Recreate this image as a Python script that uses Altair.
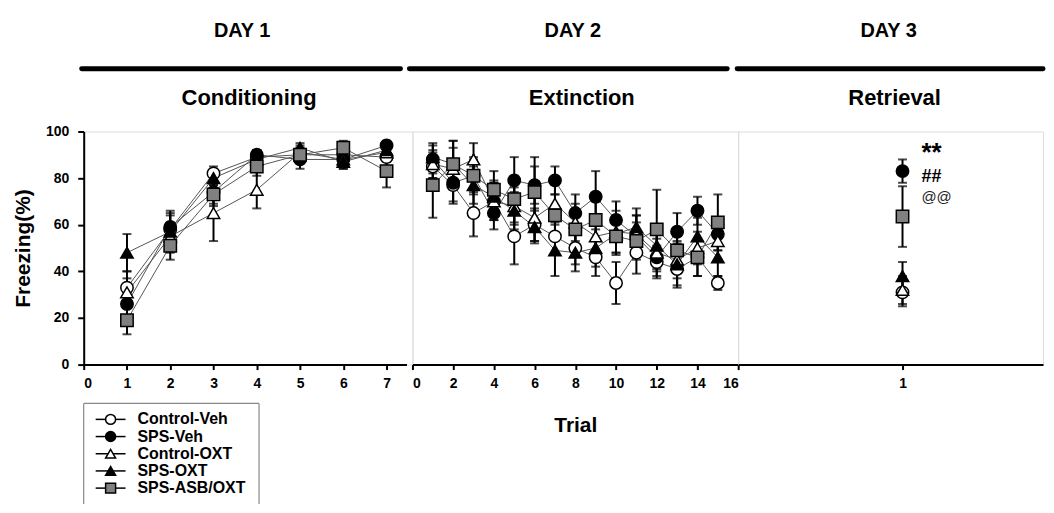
import altair as alt
import pandas as pd

# ---------------- data ----------------
groups = ["Control-Veh", "SPS-Veh", "Control-OXT", "SPS-OXT", "SPS-ASB/OXT"]

day1_trials = [1, 2, 3, 4, 5, 6, 7]
d1_ctrl_veh = [33, 58, 82, 89, 90, 90, 89]
d1_sps_veh = [26, 59, 74, 90, 88, 88, 94]
d1_ctrl_oxt = [31, 55, 65, 75, 91, 88, 91]
d1_sps_oxt = [48, 57, 80, 88, 93, 87, 92]
d1_sps_asb = [19, 51, 73, 85, 90, 93, 83]
d1_sem_ctrl_veh = [7, 6, 3, 3, 3, 3, 4]
d1_sem_sps_veh = [5, 6, 5, 2, 4, 3, 2]
d1_sem_ctrl_oxt = [6, 6, 12, 8, 3, 4, 4]
d1_sem_sps_oxt = [8, 9, 3, 4, 2, 3, 3]
d1_sem_sps_asb = [6, 6, 5, 4, 3, 3, 7]

day2_trials = list(range(1, 16))
d2_ctrl_veh = [85, 77, 65, 70, 55, 60, 55, 50, 46, 35, 48, 44, 41, 46, 35]
d2_sps_veh = [88, 78, 81, 65, 79, 77, 79, 65, 72, 62, 55, 46, 57, 66, 56]
d2_ctrl_oxt = [86, 84, 88, 70, 68, 63, 69, 61, 55, 57, 56, 48, 45, 50, 53]
d2_sps_oxt = [89, 86, 77, 72, 66, 59, 49, 48, 50, 56, 59, 51, 43, 55, 46]
d2_sps_asb = [77, 86, 81, 75, 71, 74, 64, 58, 62, 55, 53, 58, 49, 46, 61]
d2_sem_ctrl_veh = [5, 8, 10, 8, 12, 7, 8, 7, 8, 9, 9, 7, 8, 8, 3]
d2_sem_sps_veh = [6, 8, 7, 7, 10, 8, 6, 8, 11, 8, 9, 8, 8, 6, 7]
d2_sem_ctrl_oxt = [6, 9, 7, 8, 8, 10, 8, 8, 8, 9, 8, 8, 8, 7, 8]
d2_sem_sps_oxt = [6, 10, 8, 7, 8, 7, 11, 8, 8, 8, 8, 9, 9, 8, 8]
d2_sem_sps_asb = [14, 10, 8, 8, 10, 15, 9, 8, 8, 8, 8, 17, 8, 8, 12]

day3_trials = [1]
d3_mean = [31, 83, 32, 38, 63.5]
d3_sem = [6, 5, 6, 6, 13]

days = ["DAY 1", "DAY 2", "DAY 3"]
phases = ["Conditioning", "Extinction", "Retrieval"]

sig_labels = ["**", "##", "@@"]
sig_y = [87.5, 78.3, 69.6]

# ---------------- tables ----------------
def long_table(trials, means, sems):
    rows = []
    for gi, g in enumerate(groups):
        for t, m, s in zip(trials, means[gi], sems[gi]):
            rows.append({"group": g, "gi": gi, "trial": t, "mean": m,
                         "lo": m - s, "hi": m + s})
    return pd.DataFrame(rows)

df1 = long_table(day1_trials,
                 [d1_ctrl_veh, d1_sps_veh, d1_ctrl_oxt, d1_sps_oxt, d1_sps_asb],
                 [d1_sem_ctrl_veh, d1_sem_sps_veh, d1_sem_ctrl_oxt, d1_sem_sps_oxt, d1_sem_sps_asb])
df2 = long_table(day2_trials,
                 [d2_ctrl_veh, d2_sps_veh, d2_ctrl_oxt, d2_sps_oxt, d2_sps_asb],
                 [d2_sem_ctrl_veh, d2_sem_sps_veh, d2_sem_ctrl_oxt, d2_sem_sps_oxt, d2_sem_sps_asb])
df3 = long_table(day3_trials, [[m] for m in d3_mean], [[s] for s in d3_sem])

FONT = "Liberation Sans"
H = 234
FILLS = ["white", "black", "white", "black", "#808080"]
MARKER_SHAPES = ["circle", "circle", "triangle-up", "triangle-up", "square"]


def panel(df, idx, xscale, xaxis, yaxis, bar_x, bar_x2, day_x, phase_x):
    base = alt.Chart(df)
    x = alt.X("trial:Q", scale=xscale, axis=xaxis)
    y = alt.Y("mean:Q", scale=alt.Scale(domain=[0, 100]), axis=yaxis)
    fill_scale = alt.Scale(domain=groups, range=FILLS)
    lines = base.mark_line(color="#555555", strokeWidth=1).encode(
        x=x, y=y, detail="group:N")
    err = base.mark_rule(color="black", strokeWidth=2).encode(
        x="trial:Q", y="lo:Q", y2="hi:Q")
    cap_lo = base.mark_tick(color="black", orient="horizontal", size=9, thickness=2).encode(
        x="trial:Q", y="lo:Q")
    cap_hi = base.mark_tick(color="black", orient="horizontal", size=9, thickness=2).encode(
        x="trial:Q", y="hi:Q")
    layers = [lines, err, cap_lo, cap_hi]
    for shp in ["circle", "triangle-up", "square"]:
        members = [g for g, s in zip(groups, MARKER_SHAPES) if s == shp]
        layers.append(
            base.transform_filter(alt.FieldOneOfPredicate(field="group", oneOf=members))
            .mark_point(shape=shp, filled=True, size=155, stroke="black", strokeWidth=1.5, opacity=1)
            .encode(x="trial:Q", y="mean:Q",
                    fill=alt.Fill("group:N", scale=fill_scale, legend=None),
                    order=alt.Order("gi:Q")))
    hdr = alt.Chart(pd.DataFrame({"day": [days[idx]], "phase": [phases[idx]]}))
    bar = hdr.mark_rule(color="black", strokeWidth=5, strokeCap="round").encode(
        x=alt.value(bar_x), x2=alt.value(bar_x2), y=alt.value(-63))
    day_t = hdr.mark_text(font=FONT, fontSize=20, fontWeight="bold", baseline="middle").encode(
        text="day:N", x=alt.value(day_x), y=alt.value(-101))
    ph_t = hdr.mark_text(font=FONT, fontSize=22, fontWeight="bold", baseline="middle").encode(
        text="phase:N", x=alt.value(phase_x), y=alt.value(-34))
    layers += [bar, day_t, ph_t]
    return layers


axis_common = dict(labelFont=FONT, labelFontSize=14, labelFontWeight="bold", labelColor="black",
                   domainColor="black", domainWidth=2, tickColor="black", tickWidth=2,
                   tickSize=5, labelPadding=7, grid=False, titleFont=FONT, titleFontSize=21,
                   titleFontWeight="bold", titleColor="black")

yaxis1 = alt.Axis(values=[0, 20, 40, 60, 80, 100], title="Freezing(%)", titlePadding=12,
                  **{**axis_common, "labelPadding": 9, "tickSize": 6})

l1 = panel(df1, 0,
           alt.Scale(domain=[0, 7.46], range=[0, 324], nice=False),
           alt.Axis(values=list(range(0, 8)), title=None, **axis_common),
           yaxis1, -2, 318, 159, 166)
l2 = panel(df2, 1,
           alt.Scale(domain=[0, 16], nice=False),
           alt.Axis(values=list(range(0, 17, 2)), title="Trial", titlePadding=24, **axis_common),
           None, -3, 316, 161, 170)
l3 = panel(df3, 2,
           alt.Scale(domain=[0, 1.855], nice=False),
           alt.Axis(values=[1], format="d", title=None, **axis_common),
           None, -1, 306, 151, 157)

# significance marks (Day 3)
sig_df = pd.DataFrame({"label": sig_labels, "y": sig_y, "x": [1] * 3})
sig_layers = []
for lab, fs, fw, col in [("**", 26, "bold", "black"), ("##", 18, "bold", "black"), ("@@", 15, "normal", "#222222")]:
    sig_layers.append(
        alt.Chart(sig_df).transform_filter(alt.datum.label == lab).mark_text(
            font=FONT, fontSize=fs, fontWeight=fw, color=col, align="left",
            baseline="alphabetic", dx=19).encode(x="x:Q", y="y:Q", text="label:N"))

# legend (drawn below the Day-1 axis)
leg_df = pd.DataFrame({"group": groups, "gi": list(range(len(groups)))})
leg_base = alt.Chart(leg_df)
leg_y = alt.Y("group:N", scale=alt.Scale(type="point", domain=groups, range=[289, 358], padding=0),
              axis=None)
leg_fill = alt.Scale(domain=groups, range=FILLS)
leg_shape = alt.Scale(domain=groups, range=MARKER_SHAPES)
leg_lines = leg_base.mark_rule(color="black", strokeWidth=1.5).encode(
    x=alt.value(12), x2=alt.value(42), y=leg_y)
leg_pts = leg_base.mark_point(filled=True, size=100, stroke="black", strokeWidth=1.5, opacity=1).encode(
    x=alt.value(27), y=leg_y,
    fill=alt.Fill("group:N", scale=leg_fill, legend=None),
    shape=alt.Shape("group:N", scale=leg_shape, legend=None))
leg_text = leg_base.mark_text(font=FONT, fontSize=16, fontWeight="bold", align="left",
                              baseline="middle", color="black").encode(
    x=alt.value(54), y=leg_y, text="group:N")
box_src = alt.Chart(pd.DataFrame({"k": [0]}))
box_top = box_src.mark_rule(color="#888888", strokeWidth=1.2).encode(
    x=alt.value(0), x2=alt.value(176), y=alt.value(273))
box_left = box_src.mark_rule(color="#888888", strokeWidth=1.2).encode(
    x=alt.value(0), y=alt.value(273), y2=alt.value(374))
box_right = box_src.mark_rule(color="#888888", strokeWidth=1.2).encode(
    x=alt.value(176), y=alt.value(273), y2=alt.value(374))
legend_layer = alt.layer(box_top, box_left, box_right, leg_lines, leg_pts, leg_text)

p1 = alt.layer(alt.layer(*l1), legend_layer).resolve_scale(y="independent").properties(width=330, height=H)
p2 = alt.layer(*l2).properties(width=327, height=H)
p3 = alt.layer(*(l3 + sig_layers)).properties(width=306, height=H)

chart = alt.hconcat(p1, p2, p3, spacing=0, bounds="flush").resolve_scale(
    fill="independent", shape="independent"
).properties(
    padding={"left": 4, "top": 11, "right": 0, "bottom": 0}
).configure_view(stroke=None).configure(background="white")

chart.save("out.html", embed_options={"renderer": "svg", "actions": False})
